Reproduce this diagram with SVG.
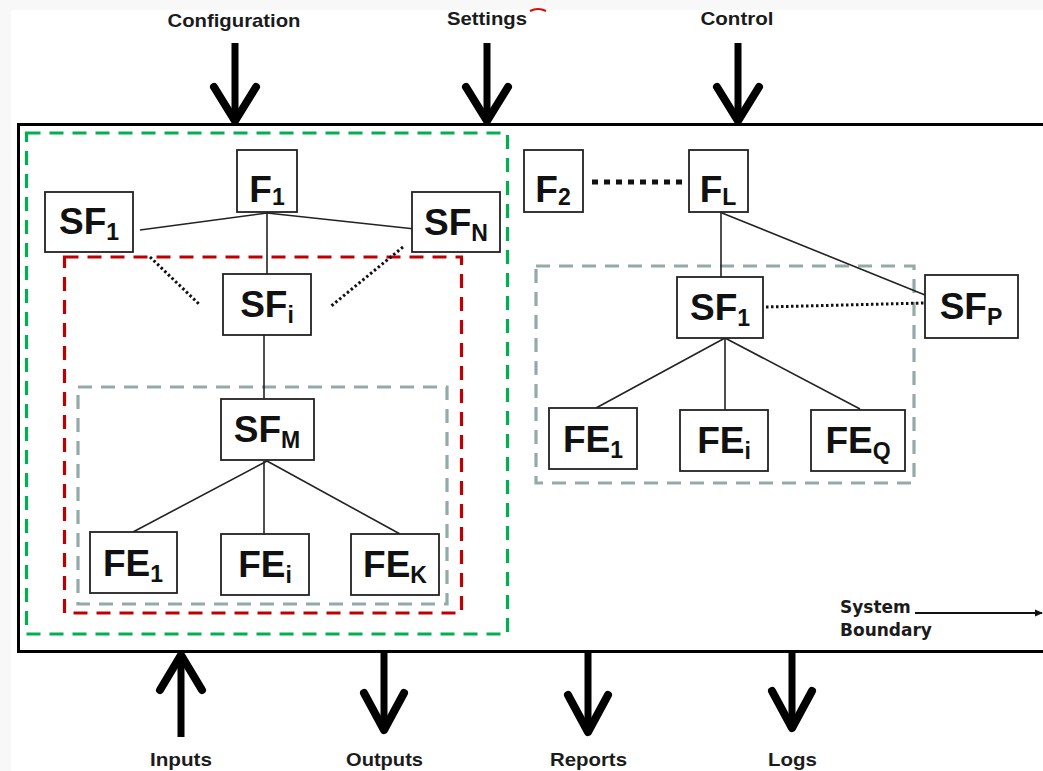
<svg xmlns="http://www.w3.org/2000/svg" width="1043" height="771" viewBox="0 0 1043 771">
  <defs>
    <marker id="tip" markerWidth="8" markerHeight="8" refX="7" refY="4" orient="auto" markerUnits="userSpaceOnUse">
      <path d="M0,0.5 L8,4 L0,7.5 Z" fill="#111"/>
    </marker>
    <style>
      .node rect { fill: #fff; stroke: #222; stroke-width: 1.8; }
      .lbl { font-family: "Liberation Sans", Arial, sans-serif; font-weight: bold; font-size: 37px; fill: #111; text-anchor: middle; }
      .sub { font-size: 23px; }
      .io { font-family: "Liberation Sans", Arial, sans-serif; font-weight: bold; font-size: 19px; fill: #1b1b1b; text-anchor: middle; }
      .note { font-family: "DejaVu Sans", sans-serif; font-weight: bold; font-size: 17px; fill: #1b1b1b; }
      .link { stroke: #222; stroke-width: 1.6; fill: none; }
      .dots { stroke: #111; stroke-width: 3; stroke-dasharray: 2.5 2.5; fill: none; }
      .bigdots { stroke: #111; stroke-width: 5; stroke-dasharray: 6 6; fill: none; }
      .zone { fill: none; stroke-width: 3.2; stroke-dasharray: 14 9; }
      .shaft { stroke: #000; stroke-width: 7; fill: none; }
      .head { stroke: #000; stroke-width: 8; fill: none; stroke-linecap: round; stroke-linejoin: round; }
    </style>
  </defs>

  <!-- page -->
  <rect x="0" y="0" width="1043" height="771" fill="#f8f8f8"/>
  <rect x="11" y="10" width="1032" height="761" fill="#fff"/>
  <path d="M530,11 Q538,7 546,11" stroke="#d01010" stroke-width="2" fill="none"/>

  <!-- system boundary -->
  <rect x="18.5" y="124.5" width="1040" height="527" fill="none" stroke="#000" stroke-width="3"/>

  <!-- grouping zones -->
  <g id="zones">
    <rect class="zone" x="26.5" y="133" width="481" height="501" stroke="#00b050"/>
    <rect class="zone" x="64.5" y="257" width="397" height="356" stroke="#c00000"/>
    <rect class="zone" x="78" y="387" width="369" height="217" stroke="#94a9a9"/>
    <rect class="zone" x="536" y="266" width="378" height="217" stroke="#94a9a9"/>
  </g>

  <!-- connectors -->
  <g id="connectors">
    <path class="link" d="M267,213 L140,230"/>
    <path class="link" d="M267,213 L415,229"/>
    <path class="link" d="M267,212 V274"/>
    <path class="dots" d="M150,257 L200,305"/>
    <path class="dots" d="M403,247 L330,307"/>
    <path class="link" d="M264,335 V399"/>
    <path class="link" d="M267,461 L133,532"/>
    <path class="link" d="M264,461 V534"/>
    <path class="link" d="M267,461 L400,534"/>
    <path class="bigdots" d="M592,182 H684"/>
    <path class="link" d="M721,212 V277"/>
    <path class="link" d="M722,213 L925,295"/>
    <path class="dots" d="M766,307 L925,303"/>
    <path class="link" d="M725,338 L596,408"/>
    <path class="link" d="M725,338 V410"/>
    <path class="link" d="M725,338 L860,409"/>
    <path d="M915,613 H1042" stroke="#111" stroke-width="2" marker-end="url(#tip)"/>
  </g>

  <!-- nodes: left function -->
  <g id="F1" class="node"><rect x="237" y="150" width="60" height="62"/><text class="lbl" x="267" y="202">F<tspan class="sub" dy="3">1</tspan></text></g>
  <g id="SF1-a" class="node"><rect x="45" y="192" width="88" height="60"/><text class="lbl" x="89" y="234">SF<tspan class="sub" dy="6">1</tspan></text></g>
  <g id="SFN" class="node"><rect x="412" y="192" width="88" height="60"/><text class="lbl" x="456" y="235">SF<tspan class="sub" dy="6">N</tspan></text></g>
  <g id="SFi" class="node"><rect x="223" y="274" width="88" height="61"/><text class="lbl" x="267" y="317">SF<tspan class="sub" dy="6">i</tspan></text></g>
  <g id="SFM" class="node"><rect x="221" y="399" width="93" height="61"/><text class="lbl" x="267" y="442">SF<tspan class="sub" dy="6">M</tspan></text></g>
  <g id="FE1-a" class="node"><rect x="90" y="532" width="87" height="61"/><text class="lbl" x="133" y="576">FE<tspan class="sub" dy="6">1</tspan></text></g>
  <g id="FEi-a" class="node"><rect x="221" y="534" width="88" height="61"/><text class="lbl" x="265" y="577">FE<tspan class="sub" dy="6">i</tspan></text></g>
  <g id="FEK" class="node"><rect x="351" y="534" width="88" height="61"/><text class="lbl" x="395" y="577">FE<tspan class="sub" dy="6">K</tspan></text></g>

  <!-- nodes: right functions -->
  <g id="F2" class="node"><rect x="524" y="150" width="59" height="62"/><text class="lbl" x="553" y="202">F<tspan class="sub" dy="3">2</tspan></text></g>
  <g id="FL" class="node"><rect x="689" y="150" width="59" height="62"/><text class="lbl" x="718" y="202">F<tspan class="sub" dy="3">L</tspan></text></g>
  <g id="SF1-b" class="node"><rect x="677" y="277" width="86" height="61"/><text class="lbl" x="720" y="320">SF<tspan class="sub" dy="6">1</tspan></text></g>
  <g id="SFP" class="node"><rect x="925" y="275" width="93" height="63"/><text class="lbl" x="971" y="319">SF<tspan class="sub" dy="6">P</tspan></text></g>
  <g id="FE1-b" class="node"><rect x="549" y="408" width="88" height="61"/><text class="lbl" x="593" y="452">FE<tspan class="sub" dy="6">1</tspan></text></g>
  <g id="FEi-b" class="node"><rect x="680" y="410" width="88" height="61"/><text class="lbl" x="724" y="453">FE<tspan class="sub" dy="6">i</tspan></text></g>
  <g id="FEQ" class="node"><rect x="811" y="410" width="94" height="61"/><text class="lbl" x="858" y="453">FE<tspan class="sub" dy="6">Q</tspan></text></g>

  <!-- external flows -->
  <g id="flows">
    <path class="shaft" d="M235,43 V120"/><polyline class="head" points="214,87 235,121 256,87"/>
    <path class="shaft" d="M487,43 V120"/><polyline class="head" points="466,87 487,121 508,87"/>
    <path class="shaft" d="M738,43 V120"/><polyline class="head" points="717,87 738,121 759,87"/>
    <path class="shaft" d="M181,656 V737"/><polyline class="head" points="160,690 181,655 202,690"/>
    <path class="shaft" d="M384,650 V728"/><polyline class="head" points="364,693 384,730 404,693"/>
    <path class="shaft" d="M588,650 V731"/><polyline class="head" points="568,695 588,732 608,695"/>
    <path class="shaft" d="M792,650 V726"/><polyline class="head" points="772,691 792,728 812,691"/>
  </g>

  <!-- flow labels -->
  <g id="labels">
    <text class="io" x="234" y="27" textLength="133" lengthAdjust="spacingAndGlyphs">Configuration</text>
    <text class="io" x="487" y="25" textLength="80" lengthAdjust="spacingAndGlyphs">Settings</text>
    <text class="io" x="737" y="25" textLength="73" lengthAdjust="spacingAndGlyphs">Control</text>
    <text class="io" x="181" y="766" textLength="62" lengthAdjust="spacingAndGlyphs">Inputs</text>
    <text class="io" x="384.5" y="766" textLength="77" lengthAdjust="spacingAndGlyphs">Outputs</text>
    <text class="io" x="588.5" y="766" textLength="77" lengthAdjust="spacingAndGlyphs">Reports</text>
    <text class="io" x="792.5" y="766" textLength="49" lengthAdjust="spacingAndGlyphs">Logs</text>
    <text class="note" x="840" y="613">System</text>
    <text class="note" x="840" y="636">Boundary</text>
  </g>
</svg>
